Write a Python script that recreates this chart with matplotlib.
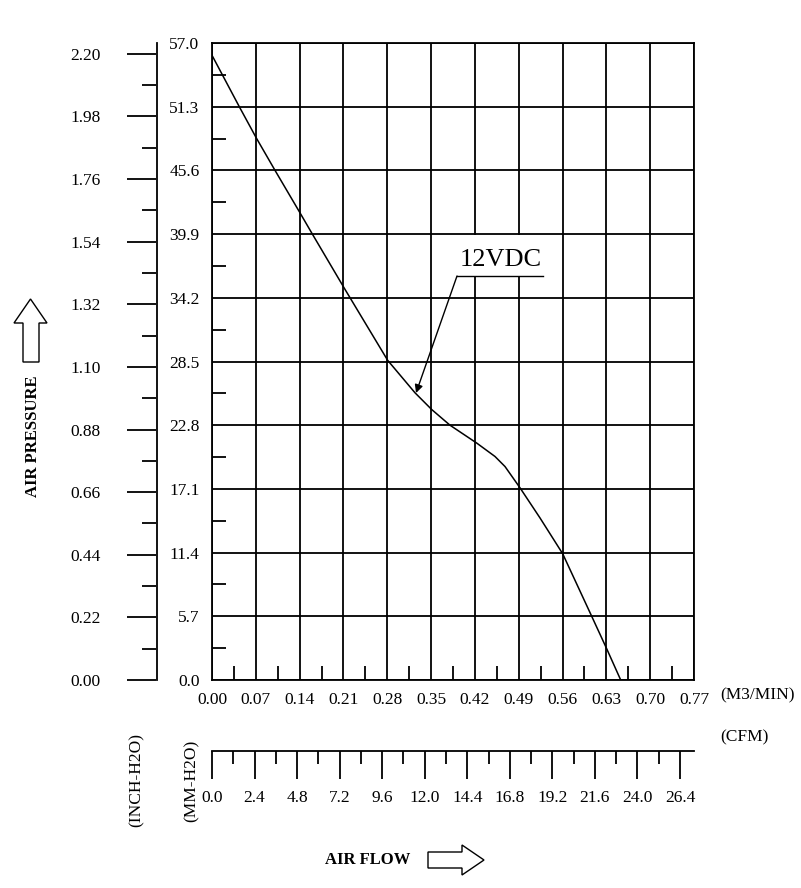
import matplotlib.pyplot as plt
from matplotlib.patches import Polygon, Rectangle

plt.rcParams['font.family'] = ['Liberation Serif', 'DejaVu Serif']

# kurva 12VDC: debit (m3/min) dan tekanan statis (mm H2O)
flow_m3 = [0.0, 0.0436, 0.0708, 0.1007, 0.1406, 0.1593, 0.2109, 0.2807, 0.3243, 0.3510,
           0.3802, 0.4229, 0.4521, 0.4681, 0.4920, 0.5240, 0.5602, 0.6066, 0.6305, 0.6529]
pressure_mm = [55.9, 51.3, 48.5, 45.6, 41.8, 40.0, 35.1, 28.6, 25.7, 24.2,
               22.8, 21.2, 20.0, 19.1, 17.2, 14.5, 11.3, 5.7, 2.8, 0.0]

m3_ticks = [0.00, 0.07, 0.14, 0.21, 0.28, 0.35, 0.42, 0.49, 0.56, 0.63, 0.70, 0.77]
mm_ticks = [0.0, 5.7, 11.4, 17.1, 22.8, 28.5, 34.2, 39.9, 45.6, 51.3, 57.0]
inch_ticks = [0.00, 0.22, 0.44, 0.66, 0.88, 1.10, 1.32, 1.54, 1.76, 1.98, 2.20]
cfm_ticks = [0.0, 2.4, 4.8, 7.2, 9.6, 12.0, 14.4, 16.8, 19.2, 21.6, 24.0, 26.4]

W, H = 801, 888
fig = plt.figure(figsize=(W / 100, H / 100), dpi=100)


def box(l, t, r, b):
    return [l / W, 1 - b / H, (r - l) / W, (b - t) / H]


def mids(ticks):
    return [(a + b) / 2 for a, b in zip(ticks[:-1], ticks[1:])]


# grafik utama
ax = fig.add_axes(box(212, 43, 694, 680))
ax.set_xlim(0, 0.77)
ax.set_ylim(0, 57)
ax.set_axisbelow(True)
ax.set_xticks(m3_ticks, ['%.2f' % v for v in m3_ticks])
ax.set_yticks(mm_ticks, ['%.1f' % v for v in mm_ticks])
ax.set_xticks(mids(m3_ticks), minor=True)
ax.set_yticks(mids(mm_ticks), minor=True)
ax.grid(True, color='black', lw=1.3)
ax.tick_params(which='major', length=0, labelsize=12.5, pad=9)
ax.tick_params(which='minor', direction='in', length=10, width=1.3)
for s in ax.spines.values():
    s.set_linewidth(1.3)

ax.plot(flow_m3, pressure_mm, color='black', lw=1.1, zorder=3)

# label 12VDC
ax.add_patch(Rectangle((0.3914, 36.15), 0.1374, 3.7, fc='white', ec='none', zorder=1.5))
ax.plot([0.3914, 0.5288], [36.15, 36.15], color='black', lw=1.0, zorder=3)
ax.annotate('', xy=(0.3259, 25.68), xytext=(0.3914, 36.15),
            arrowprops=dict(arrowstyle='-|>', color='black', lw=1.0,
                            mutation_scale=12, shrinkA=0, shrinkB=0), zorder=3)
ax.text(0.4617, 37.6, '12VDC', ha='center', va='center', fontsize=19, zorder=3)

# sumbu INCH-H2O
axi = fig.add_axes(box(156, 43, 157, 680))
axi.set_ylim(0, 2.238)
axi.set_xticks([])
axi.set_yticks(inch_ticks, ['%.2f' % v for v in inch_ticks])
axi.set_yticks(mids(inch_ticks), minor=True)
axi.patch.set_visible(False)
for k in ['top', 'bottom', 'left']:
    axi.spines[k].set_visible(False)
axi.spines['right'].set_linewidth(1.3)
axi.tick_params(axis='y', which='major', direction='out', length=21, width=1.3,
                pad=19, labelsize=12.5)
axi.tick_params(axis='y', which='minor', direction='out', length=10, width=1.3)

# sumbu CFM
axc = fig.add_axes(box(212, 740, 694, 751))
axc.set_xlim(0, 0.77 * 35.3147)
axc.set_yticks([])
axc.set_xticks(cfm_ticks, ['%.1f' % v for v in cfm_ticks])
axc.set_xticks(mids(cfm_ticks), minor=True)
axc.patch.set_visible(False)
for k in ['top', 'right', 'left']:
    axc.spines[k].set_visible(False)
axc.spines['bottom'].set_linewidth(1.3)
axc.tick_params(axis='x', which='major', direction='out', length=20, width=1.3,
                pad=8, labelsize=12.5)
axc.tick_params(axis='x', which='minor', direction='out', length=9, width=1.3)

# teks dan panah
ov = fig.add_axes([0, 0, 1, 1], zorder=-1)
ov.set_xlim(0, W)
ov.set_ylim(H, 0)
ov.axis('off')

ov.text(720, 695, '(M3/MIN)', ha='left', va='center', fontsize=12.5)
ov.text(720, 737, '(CFM)', ha='left', va='center', fontsize=12.5)
ov.text(137, 780, '(INCH-H2O)', rotation=90, ha='center', va='center', fontsize=12.5)
ov.text(192, 781, '(MM-H2O)', rotation=90, ha='center', va='center', fontsize=12.5)
ov.text(33, 436, 'AIR PRESSURE', rotation=90, ha='center', va='center',
        fontsize=12, fontweight='bold')
ov.text(368, 860, 'AIR FLOW', ha='center', va='center', fontsize=12, fontweight='bold')

ov.add_patch(Polygon([(23, 362), (23, 323), (14, 323), (30.5, 299), (47, 323),
                      (39, 323), (39, 362)], closed=True, fc='white', ec='black', lw=1))
ov.add_patch(Polygon([(428, 852), (462, 852), (462, 845), (484, 860), (462, 875),
                      (462, 868), (428, 868)], closed=True, fc='white', ec='black', lw=1))

fig.savefig('out.png', dpi=100)
